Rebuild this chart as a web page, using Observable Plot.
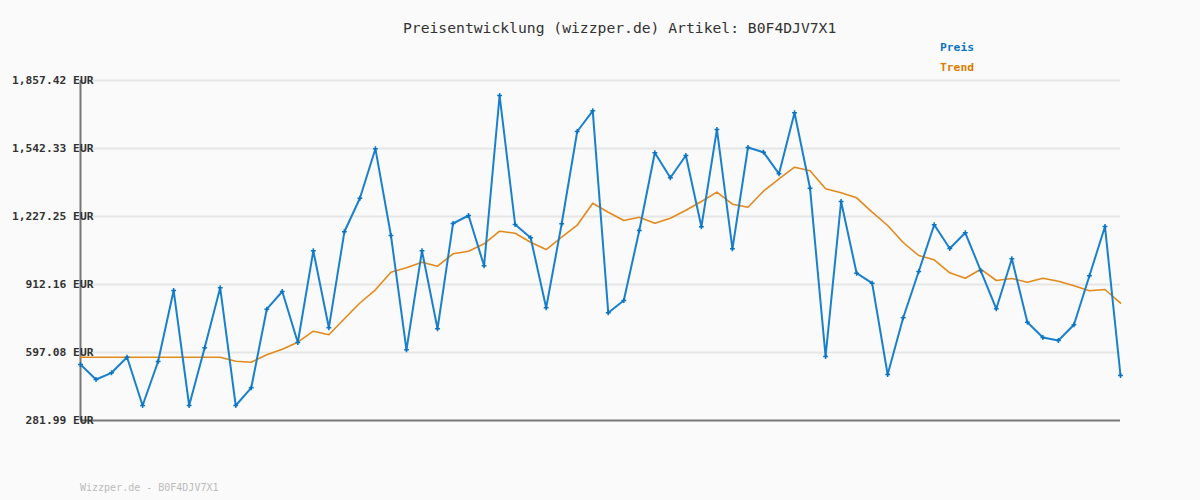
<!DOCTYPE html>
<html>
<head>
<meta charset="utf-8">
<script src="https://cdn.jsdelivr.net/npm/d3@7"></script>
<script src="https://cdn.jsdelivr.net/npm/@observablehq/plot@0.6"></script>
<style>
  html, body { margin: 0; padding: 0; background: #fafafa; }
  #wrap { position: relative; width: 1200px; height: 500px; background: #fafafa; font-family: "DejaVu Sans Mono", monospace; }
  #wrap svg { position: absolute; left: 0; top: 0; }
  .title { position: absolute; left: 403px; top: 19px; font-size: 14.7px; color: #333; white-space: nowrap; }
  .leg { position: absolute; left: 940px; font-size: 11.3px; font-weight: bold; white-space: nowrap; }
  .foot { position: absolute; left: 80px; top: 482px; font-size: 10px; color: #bbb; white-space: nowrap; }
</style>
</head>
<body>
<div id="wrap">
  <div class="title">Preisentwicklung (wizzper.de) Artikel: B0F4DJV7X1</div>
  <div class="leg" style="top:41px;color:#0b74c2">Preis</div>
  <div class="leg" style="top:61px;color:#dd7a00">Trend</div>
  <div class="foot">Wizzper.de - B0F4DJV7X1</div>
</div>
<script>
const preis = [541.5, 472.0, 503.0, 575.3, 351.5, 555.4, 884.4, 351.5, 618.9, 896.9,
  351.5, 433.5, 797.7, 879.7, 643.4, 1068.3, 711.5, 1156.4, 1312.0, 1540.9,
  1139.2, 609.6, 1068.3, 706.9, 1194.8, 1231.9, 998.8, 1787.9, 1190.2, 1128.6,
  804.2, 1193.4, 1621.1, 1717.0, 781.0, 838.0, 1162.4, 1522.4, 1406.6, 1509.9,
  1179.5, 1630.4, 1077.6, 1547.0, 1525.2, 1425.1, 1707.7, 1358.4, 578.5, 1296.8,
  964.5, 918.2, 495.1, 757.9, 972.4, 1188.8, 1079.0, 1151.7, 975.6, 799.6,
  1031.3, 737.5, 666.6, 652.7, 725.4, 952.5, 1180.9, 490.5];
const trend = [575.3, 575.3, 575.3, 575.3, 575.3, 575.3, 575.3, 575.3, 575.3, 575.3,
  556.8, 552.1, 586.4, 612.4, 644.8, 695.8, 679.1, 753.2, 826.4, 887.6,
  969.2, 989.6, 1015.5, 997.0, 1054.4, 1066.5, 1100.8, 1159.1, 1149.9, 1108.2,
  1074.3, 1131.3, 1187.0, 1288.9, 1247.2, 1208.7, 1224.0, 1196.2, 1219.4, 1256.4,
  1296.8, 1339.9, 1284.3, 1270.3, 1344.5, 1401.9, 1455.7, 1439.0, 1355.6, 1337.1,
  1313.9, 1247.2, 1185.6, 1106.8, 1046.5, 1026.6, 966.4, 941.4, 983.1, 930.7,
  940.0, 922.8, 941.4, 927.5, 906.1, 883.0, 889.0, 825.5];
const yTicks = [281.99, 597.08, 912.16, 1227.25, 1542.33, 1857.42];

const idx = preis.map((_, i) => i);
const fmt = d3.format(",.2f");
const blue = "#1a80cc";
const orange = "#e2891c";

const chart = Plot.plot({
  width: 1200,
  height: 500,
  marginLeft: 80,
  marginRight: 80,
  marginTop: 80,
  marginBottom: 80,
  style: { background: "#fafafa", fontFamily: "DejaVu Sans Mono, monospace" },
  x: { domain: [0, preis.length - 1], axis: null },
  y: { domain: [yTicks[0], yTicks[yTicks.length - 1]], axis: null },
  marks: [
    Plot.ruleY(yTicks.slice(1), { stroke: "#e6e6e6", strokeWidth: 2 }),
    Plot.ruleX([0], { stroke: "#777", strokeWidth: 2 }),
    Plot.ruleY([yTicks[0]], { stroke: "#777", strokeWidth: 2 }),
    Plot.axisY(yTicks, {
      tickSize: 0, tickPadding: -13, tickFormat: d => fmt(d) + " EUR",
      fontSize: 11.3, fontWeight: "bold", fill: "#333", label: null
    }),
    Plot.line(idx, { x: d => d, y: d => trend[d], stroke: orange, strokeWidth: 1.6 }),
    Plot.line(idx, { x: d => d, y: d => preis[d], stroke: blue, strokeWidth: 2 }),
    Plot.dot(idx, { x: d => d, y: d => preis[d], symbol: "plus", r: 1.7, stroke: "#0b74c2", strokeWidth: 1.5 })
  ]
});
document.getElementById("wrap").prepend(chart);
</script>
</body>
</html>
